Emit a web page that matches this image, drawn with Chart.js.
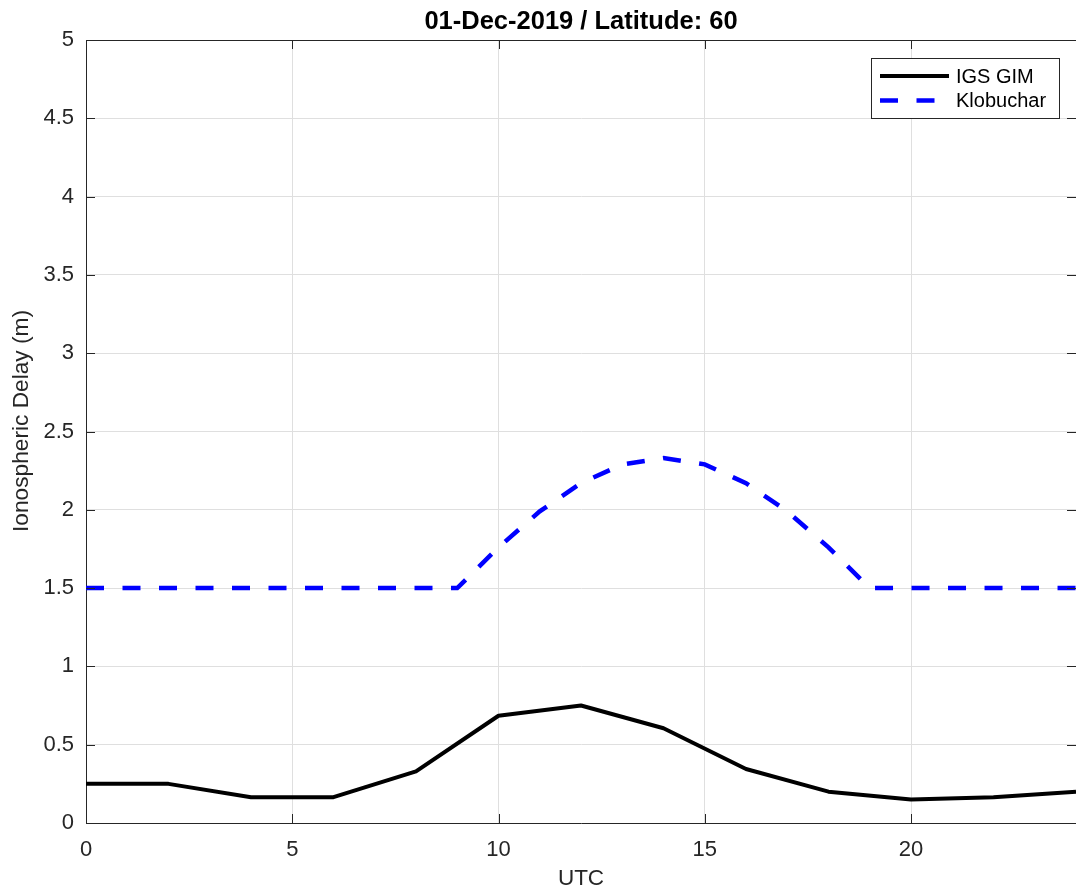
<!DOCTYPE html>
<html>
<head>
<meta charset="utf-8">
<script src="https://cdn.jsdelivr.net/npm/chart.js@4/dist/chart.umd.min.js"></script>
<style>
  html, body { margin: 0; padding: 0; background: #ffffff; }
  #wrap { width: 1076px; height: 894px; position: relative; }
</style>
</head>
<body>
<div id="wrap"><canvas id="c" width="1076" height="894"></canvas></div>
<script>
// ---- data ----
const titleText = '01-Dec-2019 / Latitude: 60';
const xLabel = 'UTC';
const yLabel = 'Ionospheric Delay (m)';
const seriesNames = ['IGS GIM', 'Klobuchar'];

const gimHours = [0, 2, 4, 6, 8, 10, 12, 14, 16, 18, 20, 22, 24];
const gimDelay = [0.25, 0.25, 0.165, 0.165, 0.33, 0.685, 0.75, 0.605, 0.345, 0.2, 0.15, 0.165, 0.2];

const klobHours = [0, 1, 2, 3, 4, 5, 6, 7, 8, 9, 10, 11, 12, 13, 14, 15, 16, 17, 18, 19, 20, 21, 22, 23, 24];
const klobDelay = [1.5, 1.5, 1.5, 1.5, 1.5, 1.5, 1.5, 1.5, 1.5, 1.5, 1.76, 1.99, 2.17, 2.29, 2.33, 2.29, 2.17, 1.99, 1.76, 1.5, 1.5, 1.5, 1.5, 1.5, 1.5];

const xTicks = [0, 5, 10, 15, 20];
const xTickLabels = ['0', '5', '10', '15', '20'];
const yTicks = [0, 0.5, 1, 1.5, 2, 2.5, 3, 3.5, 4, 4.5, 5];
const yTickLabels = ['0', '0.5', '1', '1.5', '2', '2.5', '3', '3.5', '4', '4.5', '5'];

// ---- styling ----
const FONT = '"Liberation Sans", Arial, Helvetica, sans-serif';
const AX = '#262626';
const GRID = '#dfdfdf';

const boxTicksPlugin = {
  id: 'boxTicks',
  afterDatasetsDraw(chart) {
    const ctx = chart.ctx, a = chart.chartArea;
    const xs = chart.scales.x, ys = chart.scales.y;
    ctx.save();
    ctx.strokeStyle = AX;
    ctx.lineWidth = 1;
    ctx.beginPath();
    ctx.moveTo(a.left, a.top + 0.5);
    ctx.lineTo(a.right, a.top + 0.5);
    const L = 9;
    xs.ticks.forEach(t => {
      const px = Math.round(xs.getPixelForValue(t.value)) + 0.5;
      ctx.moveTo(px, a.bottom); ctx.lineTo(px, a.bottom - L);
      ctx.moveTo(px, a.top); ctx.lineTo(px, a.top + L);
    });
    ys.ticks.forEach(t => {
      const py = Math.round(ys.getPixelForValue(t.value)) + 0.5;
      ctx.moveTo(a.left, py); ctx.lineTo(a.left + L, py);
      ctx.moveTo(a.right, py); ctx.lineTo(a.right - L, py);
    });
    ctx.stroke();
    ctx.restore();
  },
  afterDraw(chart) {
    const ctx = chart.ctx, a = chart.chartArea;
    ctx.save();
    // title
    ctx.fillStyle = '#000000';
    ctx.font = 'bold 25.5px ' + FONT;
    ctx.textAlign = 'center';
    ctx.textBaseline = 'alphabetic';
    ctx.fillText(titleText, (a.left + a.right) / 2, 29);
    // y axis label
    ctx.save();
    ctx.translate(22, 421);
    ctx.rotate(-Math.PI / 2);
    ctx.fillStyle = AX;
    ctx.font = '22.7px ' + FONT;
    ctx.textAlign = 'center';
    ctx.textBaseline = 'middle';
    ctx.fillText(yLabel, 0, 0);
    ctx.restore();
    // legend
    const bx = 871.5, by = 58.5, bw = 188, bh = 60;
    ctx.fillStyle = '#ffffff';
    ctx.fillRect(bx, by, bw, bh);
    ctx.strokeStyle = AX;
    ctx.lineWidth = 1;
    ctx.strokeRect(bx, by, bw, bh);
    const rows = [76, 100.5];
    chart.data.datasets.forEach((ds, i) => {
      const y = rows[i];
      ctx.save();
      ctx.strokeStyle = ds.borderColor;
      ctx.lineWidth = ds.borderWidth;
      ctx.lineCap = 'butt';
      ctx.setLineDash(ds.borderDash || []);
      ctx.beginPath();
      ctx.moveTo(880, y);
      ctx.lineTo(949, y);
      ctx.stroke();
      ctx.restore();
      ctx.fillStyle = '#000000';
      ctx.font = '20px ' + FONT;
      ctx.textAlign = 'left';
      ctx.textBaseline = 'middle';
      ctx.fillText(ds.label, 956, y + 1);
    });
    ctx.restore();
  }
};

new Chart(document.getElementById('c'), {
  type: 'line',
  data: {
    datasets: [
      {
        label: seriesNames[0],
        data: gimHours.map((h, i) => ({ x: h, y: gimDelay[i] })),
        borderColor: '#000000',
        borderWidth: 4,
        pointRadius: 0,
        fill: false,
        tension: 0,
        borderJoinStyle: 'round'
      },
      {
        label: seriesNames[1],
        data: klobHours.map((h, i) => ({ x: h, y: klobDelay[i] })),
        borderColor: '#0000ff',
        borderWidth: 4.5,
        borderDash: [18, 18.5],
        borderCapStyle: 'butt',
        pointRadius: 0,
        fill: false,
        tension: 0
      }
    ]
  },
  options: {
    responsive: false,
    animation: false,
    devicePixelRatio: 1,
    layout: { padding: { top: 40, right: 0, left: 0, bottom: 0 } },
    plugins: {
      legend: { display: false },
      title: { display: false },
      tooltip: { enabled: false }
    },
    scales: {
      x: {
        type: 'linear',
        min: 0, max: 24,
        afterBuildTicks: s => { s.ticks = xTicks.map(v => ({ value: v })); },
        afterFit: s => { s.height = 71; },
        grid: { color: GRID, lineWidth: 1, drawTicks: false },
        border: { display: true, color: AX, width: 1 },
        ticks: { color: AX, font: { family: FONT, size: 22 }, padding: 14, maxRotation: 0,
                 callback: (v, i) => xTickLabels[i] },
        title: { display: true, text: xLabel, color: AX, font: { family: FONT, size: 22.5 }, padding: { top: 0, bottom: 2 } }
      },
      y: {
        type: 'linear',
        min: 0, max: 5,
        afterBuildTicks: s => { s.ticks = yTicks.map(v => ({ value: v })); },
        afterFit: s => { s.width = 86; },
        grid: { color: GRID, lineWidth: 1, drawTicks: false },
        border: { display: true, color: AX, width: 1 },
        ticks: { color: AX, font: { family: FONT, size: 22 }, padding: 12,
                 callback: (v, i) => yTickLabels[i] },
        title: { display: false }
      }
    }
  },
  plugins: [boxTicksPlugin]
});
</script>
</body>
</html>
